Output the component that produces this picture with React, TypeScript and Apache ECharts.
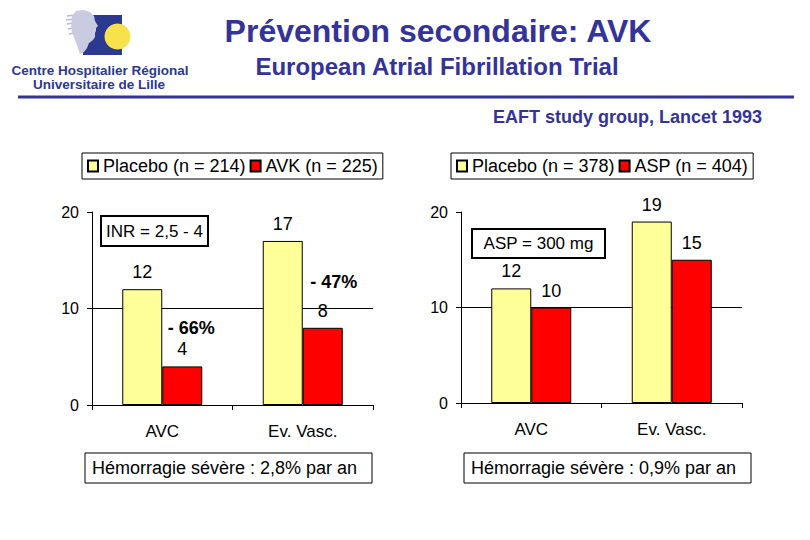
import React, { useEffect, useRef } from 'react';
import * as echarts from 'echarts';

const categories = ['AVC', 'Ev. Vasc.'];
const leftSeriesNames = ['Placebo (n = 214)', 'AVK (n = 225)'];
const leftPlacebo = [12, 17];
const leftAvk = [4, 8];
const avkReduction = ['- 66%', '- 47%'];
const rightSeriesNames = ['Placebo (n = 378)', 'ASP (n = 404)'];
const rightPlacebo = [12, 19];
const rightAsp = [10, 15];
const yMin = 0;
const yMax = 20;
const yStep = 10;

const FONT = 'Arial, "Liberation Sans", sans-serif';
const BLUE = '#333399';
const YELLOW = '#FFFF99';
const RED = '#FF0000';

function txt(x: number, y: number, text: string, font: string, fill: string, align = 'center', valign = 'middle', extra: any = {}) {
  return {
    type: 'text',
    x,
    y,
    ...extra,
    style: { text, font, fill, align, textAlign: align, verticalAlign: valign, textVerticalAlign: valign },
  };
}

export default function App() {
  const ref = useRef<HTMLDivElement>(null);
  useEffect(() => {
    if (!ref.current) return;
    const chart = echarts.init(ref.current, null, { renderer: 'svg' });

    const xAxisBase = (gi: number) => ({
      type: 'category',
      gridIndex: gi,
      data: categories,
      axisLine: { show: true, lineStyle: { color: '#000', width: 1 } },
      axisTick: { show: true, length: 5, lineStyle: { color: '#000' } },
      axisLabel: { fontSize: 17, color: '#000', margin: 18, fontFamily: FONT },
    });
    const yAxisBase = (gi: number) => ({
      type: 'value',
      gridIndex: gi,
      min: yMin,
      max: yMax,
      interval: yStep,
      axisLine: { show: true, lineStyle: { color: '#000', width: 1 } },
      axisTick: { show: true, length: 5, lineStyle: { color: '#000' } },
      axisLabel: { fontSize: 16, color: '#000', margin: 13, fontFamily: FONT },
      splitLine: { show: true, lineStyle: { color: ['rgba(0,0,0,0)', '#000', 'rgba(0,0,0,0)'], width: 1 } },
    });
    const barBase = (name: string, data: number[], color: string, gi: number) => ({
      type: 'bar',
      name,
      data,
      xAxisIndex: gi,
      yAxisIndex: gi,
      barWidth: 40,
      barGap: '0%',
      itemStyle: { color, borderColor: '#000', borderWidth: 1 },
      label: { show: true, position: 'top', distance: 8, fontSize: 18, color: '#000', fontFamily: FONT },
    });
    const legendBase = (names: string[], left: number) => ({
      data: names,
      left,
      top: 153,
      orient: 'horizontal',
      padding: [4, 5, 4, 5],
      itemGap: 4,
      itemWidth: 10,
      itemHeight: 11,
      icon: 'rect',
      selectedMode: false,
      borderColor: '#000',
      borderWidth: 1,
      textStyle: { fontSize: 18, color: '#000', fontFamily: FONT },
    });

    const reductionOffsets = [[9, -38], [11, -46]];
    const avkSeries: any = barBase(leftSeriesNames[1], leftAvk, RED, 0);
    avkSeries.markPoint = {
      symbol: 'circle',
      symbolSize: 1,
      itemStyle: { color: 'rgba(0,0,0,0)' },
      data: leftAvk.map((v, i) => ({
        coord: [categories[i], v],
        value: avkReduction[i],
        label: { offset: reductionOffsets[i] },
      })),
      label: {
        show: true,
        position: 'inside',
        formatter: (p: any) => p.value,
        fontSize: 18,
        fontWeight: 'bold',
        color: '#000',
        fontFamily: FONT,
      },
    };

    const face = [
      [76, 11], [84, 10], [90, 12], [94, 16], [95, 21], [98, 26], [96, 28], [96, 31],
      [95, 33], [95, 37], [93, 40], [89, 43], [87, 48], [84, 52], [80, 54], [78, 48],
      [75, 40], [72, 32], [71, 24], [72, 16],
    ];
    const hair = [
      [67, 16, 76, 15], [66, 20, 74, 19], [67, 24, 73, 23], [68, 29, 73, 28], [69, 34, 74, 33],
    ];

    const option: any = {
      animation: false,
      backgroundColor: '#fff',
      grid: [
        { left: 92, top: 212, width: 281, height: 193 },
        { left: 461, top: 212, width: 281, height: 191 },
      ],
      xAxis: [xAxisBase(0), xAxisBase(1)],
      yAxis: [yAxisBase(0), yAxisBase(1)],
      legend: [legendBase(leftSeriesNames, 82), legendBase(rightSeriesNames, 451)],
      series: [
        barBase(leftSeriesNames[0], leftPlacebo, YELLOW, 0),
        avkSeries,
        barBase(rightSeriesNames[0], rightPlacebo, YELLOW, 1),
        barBase(rightSeriesNames[1], rightAsp, RED, 1),
      ],
      graphic: [
        // logo
        { type: 'rect', shape: { x: 83, y: 15, width: 39, height: 40 }, style: { fill: '#2B3990' } },
        ...hair.map((h) => ({ type: 'line', shape: { x1: h[0], y1: h[1], x2: h[2], y2: h[3] }, style: { stroke: '#B8BAD4', lineWidth: 1.5 } })),
        { type: 'polygon', shape: { points: face }, style: { fill: '#C9CBE0' } },
        { type: 'circle', shape: { cx: 117.5, cy: 36.5, r: 13 }, style: { fill: '#F7E24B' } },
        txt(100, 70, 'Centre Hospitalier Régional', `bold 13.5px ${FONT}`, '#2B3990'),
        txt(99, 84, 'Universitaire de Lille', `bold 13.5px ${FONT}`, '#2B3990'),
        // titles
        txt(438, 31, 'Prévention secondaire: AVK', `bold 32px ${FONT}`, BLUE),
        txt(437, 66, 'European Atrial Fibrillation Trial', `bold 24px ${FONT}`, BLUE),
        { type: 'line', shape: { x1: 18, y1: 97, x2: 794, y2: 97 }, style: { stroke: BLUE, lineWidth: 3 } },
        txt(493, 117, 'EAFT study group, Lancet 1993', `bold 18px ${FONT}`, BLUE, 'left'),
        // annotation boxes
        { type: 'rect', shape: { x: 101, y: 216, width: 107, height: 30 }, style: { fill: '#fff', stroke: '#000', lineWidth: 2 } },
        txt(154.5, 231, 'INR = 2,5 - 4', `17px ${FONT}`, '#000'),
        { type: 'rect', shape: { x: 472, y: 229, width: 133, height: 29 }, style: { fill: '#fff', stroke: '#000', lineWidth: 2 } },
        txt(538.5, 243.5, 'ASP = 300 mg', `17px ${FONT}`, '#000'),
        { type: 'rect', shape: { x: 85, y: 453, width: 287, height: 30 }, style: { fill: '#fff', stroke: '#000', lineWidth: 1 } },
        txt(92, 468, 'Hémorragie sévère : 2,8% par an', `18px ${FONT}`, '#000', 'left'),
        { type: 'rect', shape: { x: 464, y: 453, width: 287, height: 30 }, style: { fill: '#fff', stroke: '#000', lineWidth: 1 } },
        txt(471, 468, 'Hémorragie sévère : 0,9% par an', `18px ${FONT}`, '#000', 'left'),
      ],
    };
    chart.setOption(option);
    return () => chart.dispose();
  }, []);
  return <div ref={ref} style={{ position: 'absolute', left: 0, top: 0, width: 810, height: 540 }} />;
}
